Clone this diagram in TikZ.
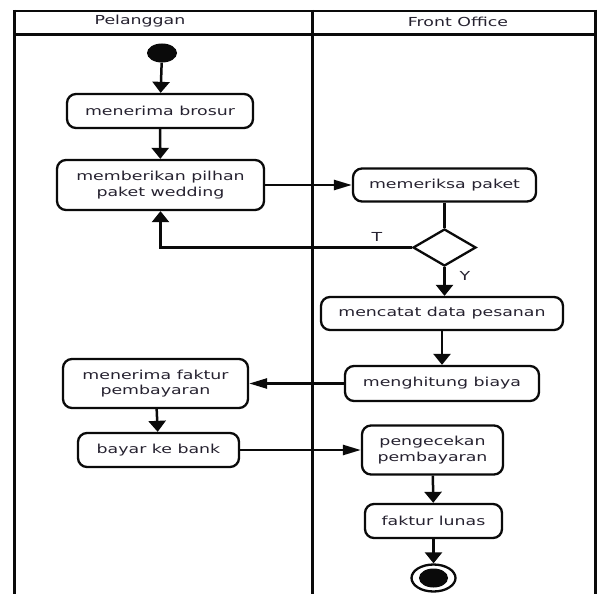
\documentclass[tikz,border=0pt]{standalone}
\usepackage{fontspec}
\newfontfamily\umlfont[FakeStretch=1.4]{DejaVu Sans}
\usetikzlibrary{arrows.meta,shapes.geometric}
\definecolor{ink}{RGB}{10,10,10}
\definecolor{txt}{RGB}{38,34,48}
\begin{document}
\begin{tikzpicture}[x=1pt,y=-1pt,
  every node/.style={font=\umlfont\fontsize{12.4}{15.5}\selectfont, text=txt},
  lanev/.style={draw=ink, line width=2.8pt},
  laneh/.style={draw=ink, line width=2.2pt},
  act/.style={draw=ink, line width=2.3pt, rounded corners=9pt, fill=white,
              inner sep=0pt, align=center},
  flow/.style={draw=ink, line width=2.5pt},
  vtip/.style={flow, -{Triangle[width=17pt,length=11pt]}},
  htip/.style={flow, -{Triangle[width=10pt,length=18pt]}},
  lbl/.style={inner sep=0pt}]
\useasboundingbox (0,0) rectangle (597,594);
\fill[white] (0,0) rectangle (597,594);

% swimlanes
\draw[lanev] (14.5,10) -- (14.5,594);
\draw[lanev] (312.5,10) -- (312.5,594);
\draw[lanev] (595.5,10) -- (595.5,594);
\draw[laneh] (14.5,11) -- (597,11);
\draw[laneh] (14.5,34.5) -- (597,34.5);
\node[lbl] (lanep) at (140,21.5) {Pelanggan};
\node[lbl] (lanef) at (458,21.5) {Front Office};

% activities
\node[ellipse, fill=ink, minimum width=30pt, minimum height=19pt, inner sep=0pt] (start) at (162,53) {};
\node[act, minimum width=186pt, minimum height=34pt] (brosur) at (160,111) {menerima brosur};
\node[act, minimum width=207pt, minimum height=50pt] (pilih) at (160.5,185) {memberikan pilhan\\paket wedding};
\node[act, minimum width=183pt, minimum height=33pt] (periksa) at (444.5,185) {memeriksa paket};
\node[diamond, draw=ink, line width=2.3pt, fill=white, minimum width=63pt, minimum height=37pt, inner sep=0pt] (cek) at (444.5,247.5) {};
\node[act, minimum width=242pt, minimum height=33pt] (catat) at (442,313.5) {mencatat data pesanan};
\node[act, minimum width=194pt, minimum height=35pt] (hitung) at (442,383.5) {menghitung biaya};
\node[act, minimum width=185pt, minimum height=49pt] (faktur) at (155.5,383.5) {menerima faktur\\pembayaran};
\node[act, minimum width=161pt, minimum height=34pt] (bayar) at (158.5,450) {bayar ke bank};
\node[act, minimum width=141pt, minimum height=49pt] (pengecekan) at (432.5,450) {pengecekan\\pembayaran};
\node[act, minimum width=137pt, minimum height=34pt] (lunas) at (433.5,521) {faktur lunas};
\node[ellipse, draw=ink, line width=2.3pt, fill=white, minimum width=44pt, minimum height=27pt, inner sep=0pt] (finish) at (433.5,578) {};
\node[ellipse, fill=ink, minimum width=29pt, minimum height=19pt, inner sep=0pt] (finishdot) at (finish.center) {};

% guard labels
\node[lbl] (gt) at (377,237) {T};
\node[lbl] (gy) at (465,276) {Y};

% control flow
\draw[vtip] (start) -- (brosur);
\draw[vtip] (brosur) -- (pilih);
\draw[htip] (pilih) -- (periksa);
\draw[flow] (periksa) -- (cek);
\draw[vtip] (cek.west) -| (pilih.south);
\draw[vtip] (cek.south) -- (catat.north -| cek.south);
\draw[vtip] (catat) -- (hitung);
\draw[htip] (hitung) -- (faktur.east |- hitung);
\draw[vtip] (faktur) -- (bayar);
\draw[htip] (bayar) -- (pengecekan);
\draw[vtip] (pengecekan) -- (lunas);
\draw[vtip] (lunas) -- (finish);
\end{tikzpicture}
\end{document}
